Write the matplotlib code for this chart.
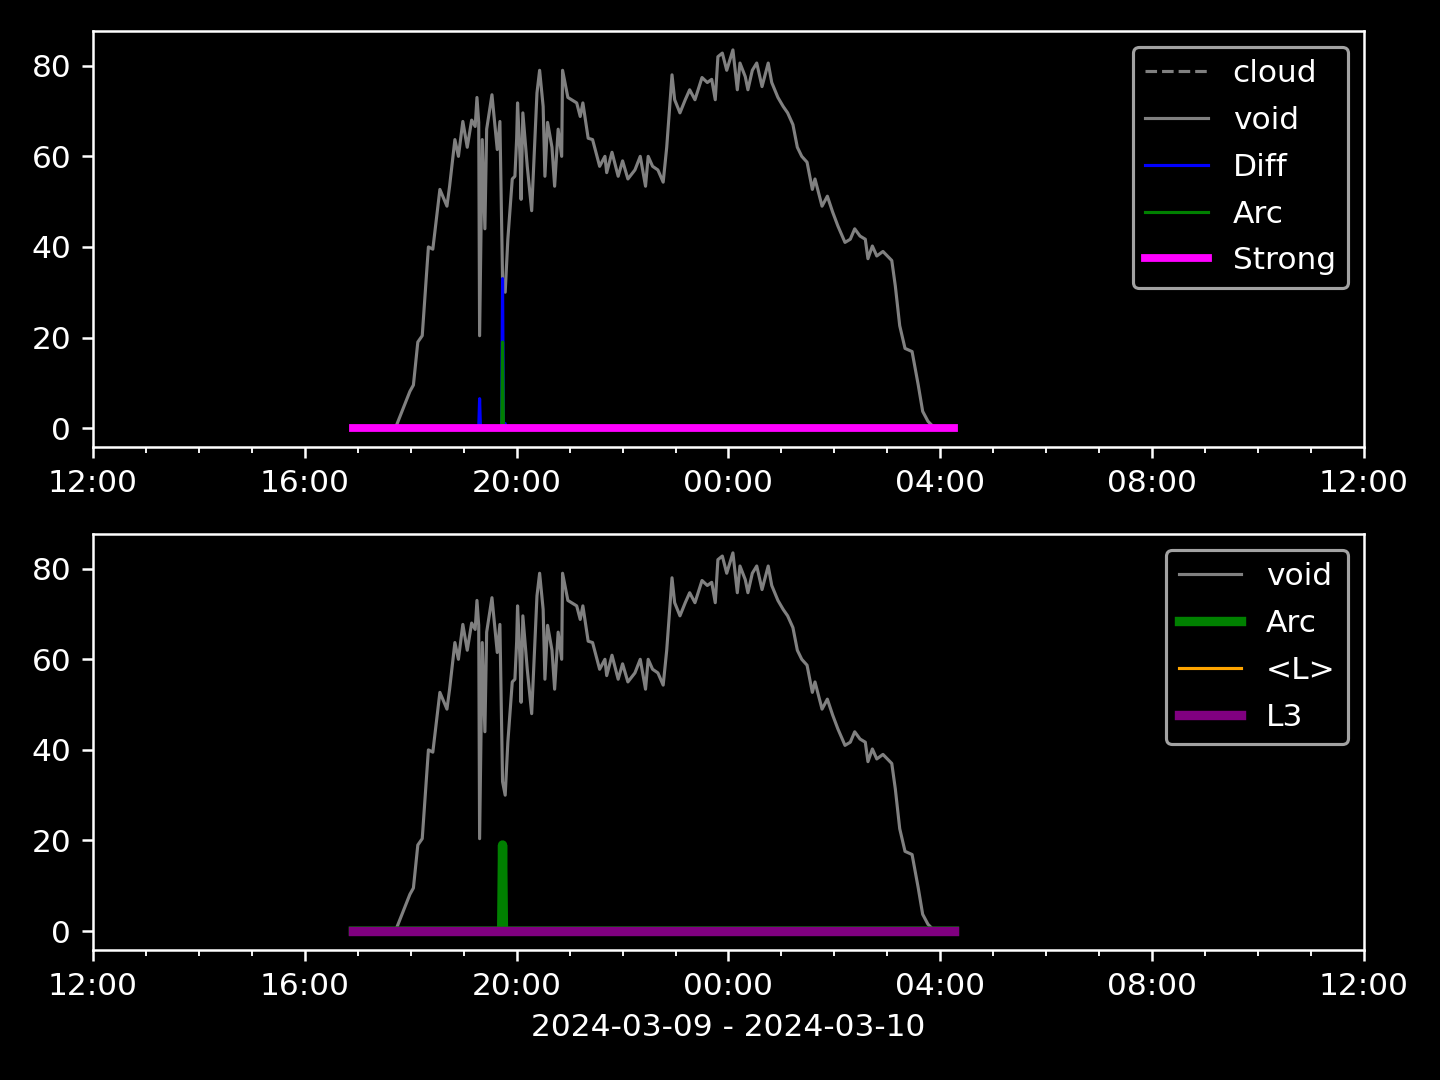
import numpy as np
import pandas as pd
import matplotlib
matplotlib.use("Agg")
import matplotlib.pyplot as plt
import matplotlib.dates as mdates

day1 = "2024-03-09"
day2 = "2024-03-10"

# void signal (time, value)
void_times = [
    "16:55", "17:43", "17:44", "17:59", "18:03", "18:08", "18:13", "18:20", "18:25",
    "18:33", "18:41", "18:44", "18:50", "18:54", "18:59", "19:04", "19:09", "19:13",
    "19:15", "19:17", "19:18", "19:21", "19:24", "19:26", "19:32", "19:38", "19:41",
    "19:44", "19:47", "19:50", "19:55", "19:58", "20:00", "20:01", "20:04", "20:05",
    "20:07", "20:12", "20:17", "20:23", "20:26", "20:30", "20:32", "20:35", "20:40",
    "20:43", "20:47", "20:51", "20:52", "20:58", "21:08", "21:12", "21:15", "21:21",
    "21:26", "21:34", "21:40", "21:42", "21:48", "21:55", "22:00", "22:06", "22:14",
    "22:20", "22:26", "22:29", "22:34", "22:40", "22:46", "22:50", "22:56", "22:59",
    "23:05", "23:11", "23:16", "23:22", "23:30", "23:36", "23:41", "23:45", "23:48",
    "23:53", "23:58", "00:05", "00:10", "00:13", "00:19", "00:22", "00:27", "00:32",
    "00:38", "00:45", "00:49", "00:56", "01:02", "01:07", "01:13", "01:18", "01:23",
    "01:29", "01:35", "01:38", "01:46", "01:52", "01:58", "02:04", "02:12", "02:18",
    "02:23", "02:29", "02:35", "02:38", "02:43", "02:48", "02:55", "03:05", "03:09",
    "03:14", "03:20", "03:28", "03:35", "03:40", "03:46", "03:51", "03:54", "04:16",
]
void_vals = [
    0, 0, 0.7, 8.1, 9.5, 19, 20.4, 40, 39.5,
    52.7, 49, 53.4, 63.7, 60, 67.7, 62, 68, 66.6,
    73, 67.5, 20.4, 63.7, 44, 66, 73.6, 61.5, 67.7,
    33, 30, 41.7, 55, 55.6, 64, 71.8, 59, 50.5,
    69.6, 57.8, 48, 74, 79, 71, 55.6, 67.5, 62,
    53.4, 66, 60, 79, 73, 71.8, 68.8, 71.8, 64,
    63.7, 57.8, 60, 56.4, 60.9, 55.6, 59, 55, 57,
    60, 53.4, 60, 57.8, 57, 54.3, 62, 78, 72.5,
    69.6, 72.5, 74.7, 72.5, 77.4, 76.3, 77, 72.5, 82,
    82.8, 79, 83.5, 74.7, 80.6, 77.6, 74.7, 79, 80.6,
    75.4, 80.6, 76.3, 73, 71, 69.6, 67, 62, 60,
    58.7, 52.7, 55, 49, 51.2, 47.7, 44.6, 41, 41.7,
    44, 42.4, 41.7, 37.4, 40.2, 38, 39, 37, 31.4,
    22.6, 17.6, 16.9, 9.5, 3.7, 1.5, 0.5, 0, 0,
]

diff_times = ["16:55", "19:17", "19:18", "19:19", "19:43", "19:44", "19:45", "19:47", "19:48", "04:16"]
diff_vals = [0, 0, 6.5, 0, 0, 33, 0, 1, 0, 0]

arc_times = ["16:55", "19:43", "19:44", "19:45", "04:16"]
arc_vals = [0, 0, 19, 0, 0]

flat_times = ["16:55", "04:16"]
strong_vals = [0, 0]
mean_l_vals = [0, 0]
l3_vals = [0, 0]


def to_dt(times):
    # times after noon belong to day1, early morning ones to day2
    out = []
    for t in times:
        d = day1 if int(t[:2]) >= 12 else day2
        out.append(pd.Timestamp(f"{d} {t}"))
    return out


void_t = to_dt(void_times)
diff_t = to_dt(diff_times)
arc_t = to_dt(arc_times)
flat_t = to_dt(flat_times)

plt.style.use("dark_background")
fig, (ax1, ax2) = plt.subplots(2, 1, figsize=(6.4, 4.8), dpi=225)
fig.subplots_adjust(left=0.0646, right=0.9472, top=0.9713, bottom=0.1204, hspace=0.209)

# top panel
ax1.plot([], [], color="gray", linestyle="--", linewidth=1, label="cloud")
ax1.plot(void_t, void_vals, color="gray", linewidth=1, label="void")
ax1.plot(diff_t, diff_vals, color="blue", linewidth=1, label="Diff")
ax1.plot(arc_t, arc_vals, color="green", linewidth=1, label="Arc")
ax1.plot(flat_t, strong_vals, color="magenta", linewidth=2.5, label="Strong")
ax1.legend(loc="upper right", labelspacing=0.57)

# bottom panel
ax2.plot(void_t, void_vals, color="gray", linewidth=1, label="void")
ax2.plot(arc_t, arc_vals, color="green", linewidth=3, label="Arc")
ax2.plot(flat_t, mean_l_vals, color="orange", linewidth=1, label="<L>")
ax2.plot(flat_t, l3_vals, color="purple", linewidth=3, label="L3")
ax2.legend(loc="upper right", labelspacing=0.57)
ax2.set_xlabel(f"{day1} - {day2}")

for ax in (ax1, ax2):
    ax.set_xlim(pd.Timestamp(f"{day1} 12:00"), pd.Timestamp(f"{day2} 12:00"))
    ax.xaxis.set_major_locator(mdates.HourLocator(byhour=range(0, 24, 4)))
    ax.xaxis.set_minor_locator(mdates.HourLocator())
    ax.xaxis.set_major_formatter(mdates.DateFormatter("%H:%M"))
    ax.set_yticks([0, 20, 40, 60, 80])

plt.savefig("out.png")
